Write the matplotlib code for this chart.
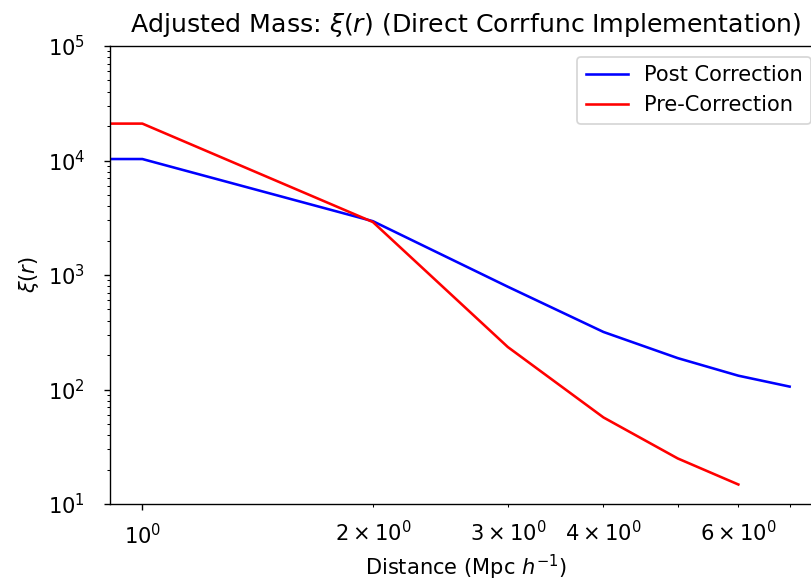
import numpy as np
import matplotlib
matplotlib.use("Agg")
import matplotlib.pyplot as plt

# separation bins (first bin at r = 0, clipped on the log axis)
r_post = [0, 1, 2, 3, 4, 5, 6, 7]
xi_post = [10300, 10300, 2950, 790, 318, 188, 132, 106]

r_pre = [0, 1, 2, 3, 4, 5, 6]
xi_pre = [21000, 21000, 2900, 235, 57, 25, 14.8]

DPI = 124
plt.rcParams['font.size'] = 12.2

fig = plt.figure(figsize=(811 / DPI, 586 / DPI), dpi=DPI)
# axes run a little past the right edge of the saved picture
ax = fig.add_axes([110 / 811, 82 / 586, 712 / 811, 458 / 586])

ax.plot(r_post, xi_post, color='blue', label='Post Correction')
ax.plot(r_pre, xi_pre, color='red', label='Pre-Correction')

ax.set_xscale('log')
ax.set_yscale('log')
ax.set_ylim(10, 1e5)
ax.tick_params(axis='x', which='both', pad=7.5)
ax.tick_params(axis='y', which='both', pad=11)
ax.set_xlabel(r'Distance (Mpc $h^{-1}$)', labelpad=2.5)
ax.set_ylabel(r'$\xi(r)$')
ax.set_title(r'Adjusted Mass: $\xi(r)$ (Direct Corrfunc Implementation)', pad=8)
ax.legend(loc='upper right')

fig.savefig('out.png', dpi=DPI)
